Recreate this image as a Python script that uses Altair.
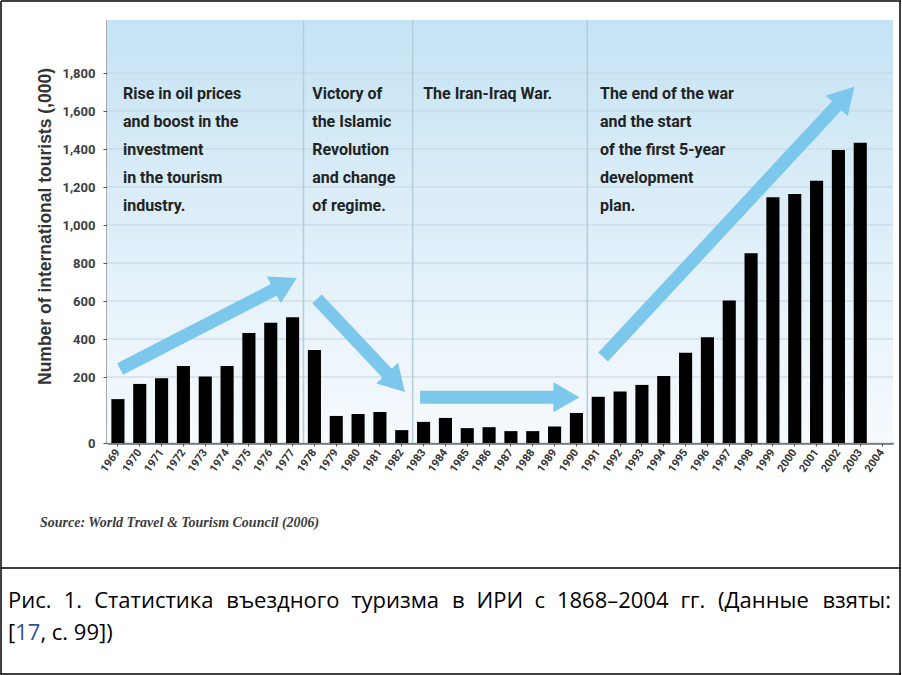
import math
import altair as alt
import pandas as pd

# ---------------- data ----------------
years = [str(y) for y in range(1969, 2005)]          # tick labels
bar_years = [str(y) for y in range(1969, 2004)]      # bars visible in the picture
tourists = [133, 179, 196, 258, 202, 258, 432, 486, 514, 342,
            82, 88, 94, 39, 64, 76, 45, 48, 36, 36, 50, 91,
            140, 156, 176, 205, 328, 409, 602, 851, 1146, 1163, 1233, 1395, 1433]
y_ticks = [0, 200, 400, 600, 800, 1000, 1200, 1400, 1600, 1800]
period_bounds = [1977.5, 1982.5, 1990.5]

note_texts = [
    "Rise in oil prices\nand boost in the\ninvestment\nin the tourism\nindustry.",
    "Victory of\nthe Islamic\nRevolution\nand change\nof regime.",
    "The Iran-Iraq War.",
    "The end of the war\nand the start\nof the first 5-year\ndevelopment\nplan.",
]
note_x = [1969.23, 1977.9, 1982.98, 1991.08]
note_y = [1663, 1663, 1663, 1663]

arrow_x1 = [1969.1, 1978.12, 1982.84, 1991.22]
arrow_y1 = [242, 611, 139, 305]
arrow_x2 = [1977.02, 1982.01, 1989.94, 2002.6]
arrow_y2 = [711, 164, 139, 1711]

y_title = "Number of international tourists (,000)"
source_text = "Source: World Travel & Tourism Council (2006)"
caption_line1 = "Рис. 1. Статистика въездного туризма в ИРИ с 1868–2004 гг. (Данные взяты:"
caption_ref = ["[", "17", ", с. 99])"]

# ---------------- layout ----------------
W, H = 786, 423
PAD_L, PAD_T, PAD_R, PAD_B = 107, 20, 9, 232
X_DOMAIN = [1968.5, 2004.5]
Y_DOMAIN = [0, 200, 2079]
Y_RANGE = [H, 357, 0]

ARROW = "#7cc7ec"
COND = "Roboto"
CAP_FONT = "Open Sans"
CAP_SIZE = 22


def sx(v):
    return (v - X_DOMAIN[0]) / (X_DOMAIN[1] - X_DOMAIN[0]) * W


def sy(v):
    if v <= Y_DOMAIN[1]:
        return Y_RANGE[0] + (v - Y_DOMAIN[0]) / (Y_DOMAIN[1] - Y_DOMAIN[0]) * (Y_RANGE[1] - Y_RANGE[0])
    return Y_RANGE[1] + (v - Y_DOMAIN[1]) / (Y_DOMAIN[2] - Y_DOMAIN[1]) * (Y_RANGE[2] - Y_RANGE[1])


def inv_x(p):
    return X_DOMAIN[0] + p / W * (X_DOMAIN[1] - X_DOMAIN[0])


def inv_y(p):
    if p >= Y_RANGE[1]:
        return Y_DOMAIN[0] + (p - Y_RANGE[0]) / (Y_RANGE[1] - Y_RANGE[0]) * (Y_DOMAIN[1] - Y_DOMAIN[0])
    return Y_DOMAIN[1] + (p - Y_RANGE[1]) / (Y_RANGE[2] - Y_RANGE[1]) * (Y_DOMAIN[2] - Y_DOMAIN[1])


HEAD = 13  # half length of the arrow head in pixels
rows = []
for a, b, c, d in zip(arrow_x1, arrow_y1, arrow_x2, arrow_y2):
    px1, py1, px2, py2 = sx(a), sy(b), sx(c), sy(d)
    L = math.hypot(px2 - px1, py2 - py1)
    ux, uy = (px2 - px1) / L, (py2 - py1) / L
    hx, hy = px2 - HEAD * ux, py2 - HEAD * uy
    ang = math.degrees(math.atan2(ux, -uy)) % 360
    rows.append(dict(x1=a, y1=b, x2=inv_x(hx), y2=inv_y(hy), hx=inv_x(hx), hy=inv_y(hy), angle=ang))
arrows = pd.DataFrame(rows)

# approximate Open Sans advance widths (em) used to justify the caption line
GLYPH_EM = {
    "а": .556, "б": .592, "в": .568, "г": .446, "д": .580, "е": .561, "ж": .852, "з": .493,
    "и": .642, "й": .642, "к": .550, "л": .610, "м": .768, "н": .642, "о": .602, "п": .642,
    "р": .613, "с": .480, "т": .470, "у": .500, "ф": .780, "х": .520, "ц": .650, "ч": .610,
    "ш": .930, "щ": .940, "ъ": .640, "ы": .840, "ь": .560, "э": .500, "ю": .880, "я": .570,
    "Р": .603, "С": .629, "И": .742, "Д": .670,
    ".": .266, ":": .266, ",": .245, "(": .296, ")": .296, "[": .330, "]": .330, "–": .500,
}


def est_width(s, size):
    w = 0.0
    for ch in s:
        if ch.isdigit():
            w += 0.572
        else:
            w += GLYPH_EM.get(ch, 0.58)
    return w * size


words = caption_line1.split(" ")
widths = [est_width(wd, CAP_SIZE) for wd in words]
left, right = 8, 893
gap = (right - left - sum(widths)) / (len(words) - 1)
xs = []
cur = left
for wd, wi in zip(words, widths):
    xs.append(cur - PAD_L)
    cur += wi + gap
cap_words = pd.DataFrame({"w": words, "x": xs})

ref_x = []
cur = 8
for part in caption_ref:
    ref_x.append(cur - PAD_L)
    cur += est_width(part, CAP_SIZE) + (0.27 * CAP_SIZE if part.endswith(",") else 0)
cap_ref = pd.DataFrame({"w": caption_ref, "x": ref_x, "c": ["#000000", "#2f5597", "#000000"]})

bars = pd.DataFrame({"year": bar_years, "tourists": tourists})
grid = pd.DataFrame({"v": y_ticks})
bounds = pd.DataFrame({"x": period_bounds})
notes = pd.DataFrame({"x": note_x, "y": note_y, "t": note_texts})

yscale = alt.Scale(domain=Y_DOMAIN, range=Y_RANGE, nice=False, zero=False)
xq = alt.Scale(domain=X_DOMAIN, nice=False, zero=False)
yaxis = alt.Axis(values=y_ticks, format=",d", grid=False,
                 labelFont=COND, labelFontWeight="bold", labelFontSize=13,
                 labelColor="#3d3d3d", labelPadding=8, tickSize=4, tickColor="#555555",
                 domainColor="#555555", domainWidth=2,
                 title=y_title,
                 titleFont="Liberation Sans", titleFontWeight="bold", titleFontSize=17.5,
                 titleColor="#333333", titleAngle=270, titleX=-62, titleY=206,
                 titleAlign="center", titleBaseline="middle")

one = pd.DataFrame({"a": [0]})

background = alt.Chart(one).mark_rect(
    color=alt.Gradient(
        gradient="linear",
        stops=[alt.GradientStop(color="#c5e3f4", offset=0),
               alt.GradientStop(color="#e1f0f9", offset=0.55),
               alt.GradientStop(color="#f6fafd", offset=1)],
        x1=0, x2=0, y1=0, y2=1,
    )
).encode(x=alt.value(0), x2=alt.value(W), y=alt.value(0), y2=alt.value(H))

gridlines = alt.Chart(grid).mark_rule(color="#c3d5df", strokeWidth=1).encode(
    y=alt.Y("v:Q", scale=yscale, axis=yaxis), x=alt.value(0), x2=alt.value(W)
)

dividers = alt.Chart(bounds).mark_rule(color="#b4cddb", strokeWidth=1.5).encode(
    x=alt.X("x:Q", scale=xq, axis=None), y=alt.value(0), y2=alt.value(H)
)

bar_layer = alt.Chart(bars).mark_bar(color="#000000").encode(
    x=alt.X("year:O", scale=alt.Scale(domain=years, paddingInner=0.4, paddingOuter=0.2),
            axis=alt.Axis(title=None, labelAngle=305, labelAlign="right", labelBaseline="middle",
                          labelFont=COND, labelFontWeight="bold", labelFontSize=11,
                          labelColor="#333333", labelPadding=4, tickSize=3, tickColor="#555555",
                          domainColor="#222222", domainWidth=2)),
    y=alt.Y("tourists:Q", scale=yscale, axis=yaxis),
)

shafts = alt.Chart(arrows).mark_rule(color=ARROW, strokeWidth=13, strokeCap="butt").encode(
    x=alt.X("x1:Q", scale=xq, axis=None), y=alt.Y("y1:Q", scale=yscale, axis=yaxis),
    x2="x2:Q", y2="y2:Q",
)

heads = alt.Chart(arrows).mark_point(shape="triangle", filled=True, size=900, color=ARROW,
                                     opacity=1, strokeWidth=0).encode(
    x=alt.X("hx:Q", scale=xq, axis=None), y=alt.Y("hy:Q", scale=yscale, axis=yaxis),
    angle=alt.Angle("angle:Q", scale=None),
)

note_layer = alt.Chart(notes).mark_text(
    align="left", baseline="alphabetic", lineBreak="\n", lineHeight=28,
    font=COND, fontWeight="bold", fontSize=16, color="#222222",
).encode(x=alt.X("x:Q", scale=xq, axis=None), y=alt.Y("y:Q", scale=yscale, axis=yaxis), text="t:N")

source = alt.Chart(one).mark_text(
    text=source_text, align="left", baseline="middle",
    font="Liberation Serif", fontStyle="italic", fontWeight="bold", fontSize=14, color="#3c3c3c",
).encode(x=alt.value(40 - PAD_L), y=alt.value(523 - PAD_T))

cap1 = alt.Chart(cap_words).mark_text(
    align="left", baseline="middle", font=CAP_FONT, fontSize=CAP_SIZE, color="#000000",
).encode(x=alt.X("x:Q", scale=None, axis=None), y=alt.value(601 - PAD_T), text="w:N")

cap2 = alt.Chart(cap_ref).mark_text(
    align="left", baseline="middle", font=CAP_FONT, fontSize=CAP_SIZE,
).encode(x=alt.X("x:Q", scale=None, axis=None), y=alt.value(633 - PAD_T), text="w:N",
         color=alt.Color("c:N", scale=None))

hlines = [alt.Chart(one).mark_rule(color="#000000", strokeWidth=1.5).encode(
    x=alt.value(1 - PAD_L), x2=alt.value(901 - PAD_L), y=alt.value(yy - PAD_T), y2=alt.value(yy - PAD_T))
    for yy in [1, 568, 674]]
vlines = [alt.Chart(one).mark_rule(color="#000000", strokeWidth=1.5).encode(
    x=alt.value(xx - PAD_L), x2=alt.value(xx - PAD_L), y=alt.value(1 - PAD_T), y2=alt.value(675 - PAD_T))
    for xx in [1, 900]]

chart = alt.layer(
    background, gridlines, dividers, bar_layer, shafts, heads, note_layer,
    source, cap1, cap2, *hlines, *vlines,
).resolve_scale(x="independent").properties(
    width=W, height=H,
    autosize=alt.AutoSizeParams(type="none"),
    padding={"left": PAD_L, "top": PAD_T, "right": PAD_R, "bottom": PAD_B},
    background="#ffffff",
).configure_view(stroke=None)

chart.save("out.html", embed_options={"renderer": "svg", "actions": False})
